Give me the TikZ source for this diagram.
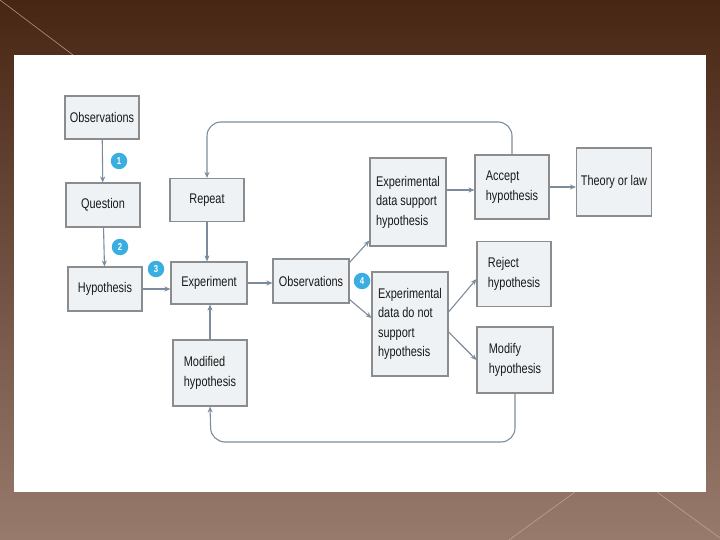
\documentclass[tikz,border=0pt]{standalone}
\usepackage{fontspec}
\setmainfont[FakeStretch=0.78]{Liberation Sans}
\usetikzlibrary{arrows.meta,calc}
\definecolor{bgtop}{HTML}{482614}
\definecolor{bgbot}{HTML}{977A6C}
\definecolor{boxfill}{HTML}{EEF2F4}
\definecolor{boxline}{HTML}{8A8C8E}
\definecolor{arrcol}{HTML}{7D8C9C}
\definecolor{numcol}{HTML}{3AAEE0}
\definecolor{deco}{HTML}{C9AE9E}
\tikzset{
  box/.style={draw=boxline, fill=boxfill, line width=1.1pt, align=left, inner sep=3pt,
    font=\fontsize{14}{19.5}\selectfont, text=black!90},
  arr/.style={draw=arrcol, line width=1.1pt, -{Stealth[length=6pt,width=5pt]}},
  loop/.style={draw=arrcol, line width=1.1pt, rounded corners=14pt, -{Stealth[length=6pt,width=5pt]}},
  num/.style={circle, fill=numcol, minimum size=16.5pt, inner sep=0pt, text=white,
    font=\fontsize{10}{10}\selectfont\bfseries},
  decoline/.style={draw=deco, line width=0.6pt, opacity=0.8}
}
\begin{document}
\begin{tikzpicture}[x=1pt,y=-1pt]
\useasboundingbox (0,0) rectangle (720,540);
\shade[top color=bgtop, bottom color=bgbot] (0,0) rectangle (720,540);
\draw[decoline] (0,0) -- (73,55);
\draw[decoline] (575,492) -- (509,540);
\draw[decoline] (657,492) -- (720,538);
\fill[white] (14,55) rectangle (706,492);

% left column
\node[box, minimum width=74, minimum height=43] (obs1) at (102,117.5) {Observations};
\node[box, minimum width=74, minimum height=44] (que) at (103,205) {Question};
\node[box, minimum width=74, minimum height=44] (hyp) at (105,289) {Hypothesis};
% second column
\node[box, minimum width=74, minimum height=43] (rep) at (207,200) {Repeat};
\node[box, minimum width=76, minimum height=42] (exp) at (209,283) {Experiment};
\node[box, minimum width=74, minimum height=66] (mod) at (210,373) {Modified\\hypothesis};
% third
\node[box, minimum width=76, minimum height=44] (obs2) at (311,281) {Observations};
\node[box, minimum width=76, minimum height=88] (sup) at (408,202) {Experimental\\data support\\hypothesis};
\node[box, minimum width=76, minimum height=104] (nsup) at (410,324) {Experimental\\data do not\\support\\hypothesis};
% fourth
\node[box, minimum width=74, minimum height=64] (acc) at (512,187) {Accept\\hypothesis};
\node[box, minimum width=74, minimum height=65] (rej) at (514,274) {Reject\\hypothesis};
\node[box, minimum width=76, minimum height=66] (modh) at (515,360) {Modify\\hypothesis};
\node[box, minimum width=75, minimum height=68] (thl) at (614,182) {Theory or law};

% numbers
\node[num] (n1) at (119,161) {1};
\node[num] (n2) at (120,247) {2};
\node[num] (n3) at (156,269) {3};
\node[num] (n4) at (362,281) {4};

% connectors
\draw[arr] (obs1) -- (que);
\draw[arr] (que) -- (hyp);
\draw[arr] (hyp) -- (exp.west |- hyp);
\draw[arr] (rep) -- (exp.north -| rep);
\draw[arr] (mod.north) -- (exp.south -| mod.north);
\draw[arr] (exp) -- (obs2.west |- exp);
\draw[arr] ($(obs2.north east)+(0,4)$) -- ($(sup.south west)+(0,-6)$);
\draw[arr] ($(obs2.south east)+(0,-4)$) -- ($(nsup.west)+(0,-6)$);
\draw[arr] (sup.east |- 0,190) -- (acc.west |- 0,190);
\draw[arr] (acc) -- (thl.west |- acc);
\draw[arr] ($(nsup.east)+(0,-12)$) -- ($(rej.south west)+(0,-28)$);
\draw[arr] ($(nsup.east)+(0,8)$) -- ($(modh.west)+(0,0)$);
\draw[loop] (acc.north) |- (207,122) -- (rep.north);
\draw[loop] (modh.south) |- (211,442) -- (mod.south);
\end{tikzpicture}
\end{document}
